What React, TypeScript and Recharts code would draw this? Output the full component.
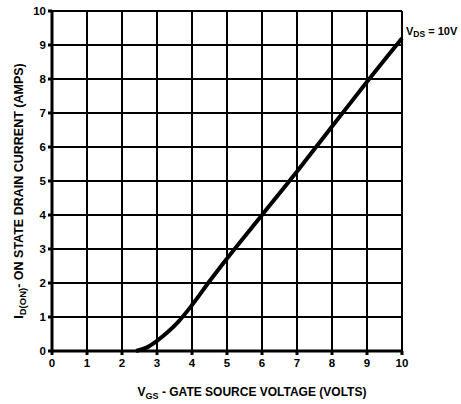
import { LineChart, Line, XAxis, YAxis, CartesianGrid } from 'recharts';

// (VDS = 10V)
const VGS = [2.4, 2.7, 3, 3.3, 3.6, 4, 4.5, 5, 6, 7, 8, 9, 10];
const ID_ON = [0, 0.1, 0.3, 0.55, 0.85, 1.35, 2.05, 2.72, 4.0, 5.28, 6.6, 7.92, 9.2];
const X_TICKS = [0, 1, 2, 3, 4, 5, 6, 7, 8, 9, 10];
const Y_TICKS = [0, 1, 2, 3, 4, 5, 6, 7, 8, 9, 10];

const FONT = '"Liberation Sans", Arial, sans-serif';
const INK = '#000';

const data = VGS.map((v, i) => ({ vgs: v, id: ID_ON[i] }));

function XTitle({ viewBox }: any) {
  const cx = viewBox.x + viewBox.width / 2;
  return (
    <text x={cx + 25} y={viewBox.y + 45} textAnchor="middle" fill={INK}
      fontFamily={FONT} fontWeight="bold" fontSize={12}>
      V<tspan fontSize={9} dy={3}>GS</tspan><tspan dy={-3}> - GATE SOURCE VOLTAGE (VOLTS)</tspan>
    </text>
  );
}

function YTitle({ viewBox }: any) {
  const cy = viewBox.y + viewBox.height / 2 + 10;
  const x = 23;
  return (
    <text x={x} y={cy} transform={`rotate(-90 ${x} ${cy})`} textAnchor="middle" fill={INK}
      fontFamily={FONT} fontWeight="bold" fontSize={12.5}>
      I<tspan fontSize={9.5} dy={3}>D(ON)</tspan><tspan dy={-3}>- ON STATE DRAIN CURRENT (AMPS)</tspan>
    </text>
  );
}

function EndLabel(props: any) {
  const { x, y, index } = props;
  if (index !== data.length - 1) return null;
  return (
    <text x={x + 4} y={y - 3} fill={INK} fontFamily={FONT} fontWeight="bold" fontSize={11}>
      V<tspan fontSize={8.5} dy={2}>DS</tspan><tspan dy={-2}> = 10V</tspan>
    </text>
  );
}

export default function App() {
  const tick = { fill: INK, fontSize: 11.5, fontWeight: 'bold', fontFamily: FONT };
  return (
    <div style={{ position: 'absolute', left: 0, top: 0, background: '#fff' }}>
      <LineChart width={461} height={404} data={data}
        margin={{ top: 11, right: 59, left: 0, bottom: 0 }}>
        <CartesianGrid stroke={INK} strokeWidth={2} strokeOpacity={1} />
        <XAxis
          dataKey="vgs"
          type="number"
          domain={[0, 10]}
          ticks={X_TICKS}
          height={53}
          tick={tick}
          tickSize={4}
          tickMargin={4}
          stroke={INK}
          strokeWidth={3}
          label={<XTitle />}
        />
        <YAxis
          type="number"
          domain={[0, 10]}
          ticks={Y_TICKS}
          width={52}
          tick={tick}
          tickSize={4}
          tickMargin={2}
          stroke={INK}
          strokeWidth={3}
          label={<YTitle />}
        />
        <Line
          type="monotone"
          dataKey="id"
          stroke={INK}
          strokeWidth={4}
          dot={false}
          label={<EndLabel />}
          isAnimationActive={false}
        />
      </LineChart>
    </div>
  );
}
